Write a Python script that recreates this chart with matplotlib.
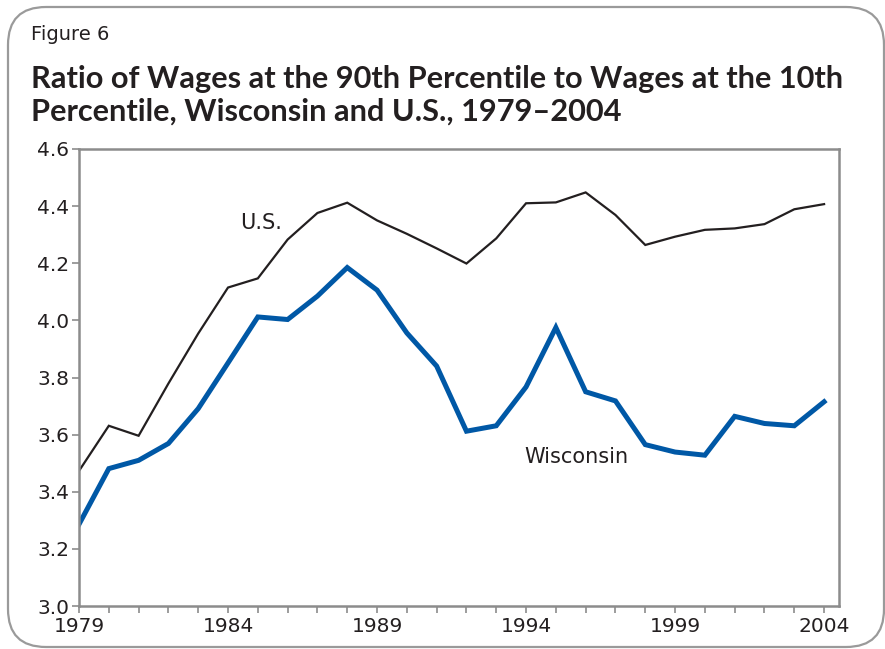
import matplotlib
matplotlib.use("Agg")
import matplotlib.pyplot as plt
from matplotlib.patches import FancyBboxPatch
from matplotlib.transforms import IdentityTransform
from matplotlib import font_manager

years = list(range(1979, 2005))
us = [3.473, 3.631, 3.596, 3.779, 3.954, 4.115, 4.147, 4.283, 4.376, 4.412,
      4.350, 4.303, 4.252, 4.199, 4.287, 4.410, 4.413, 4.448, 4.369, 4.264,
      4.293, 4.317, 4.322, 4.337, 4.389, 4.407]
wisconsin = [3.286, 3.481, 3.510, 3.569, 3.691, 3.851, 4.012, 4.003, 4.085, 4.185,
             4.106, 3.956, 3.840, 3.612, 3.631, 3.767, 3.975, 3.750, 3.718, 3.565,
             3.539, 3.528, 3.664, 3.639, 3.631, 3.715]
yticks = [3.0, 3.2, 3.4, 3.6, 3.8, 4.0, 4.2, 4.4, 4.6]
xlabel_years = [1979, 1984, 1989, 1994, 1999, 2004]

names = {f.name for f in font_manager.fontManager.ttflist}
title_family = "Lato" if "Lato" in names else "DejaVu Sans"

W, H = 885, 649
fig = plt.figure(figsize=(W / 100, H / 100), dpi=100)
fig.patch.set_facecolor("white")

# rounded frame (pixel coordinates, origin bottom-left)
frame = FancyBboxPatch((8, H - 647), 876, 640,
                       boxstyle="round,pad=0,rounding_size=38",
                       transform=IdentityTransform(), facecolor="none",
                       edgecolor="#9a9a9a", linewidth=1.6)
fig.patches.append(frame)

fig.text(31 / W, 1 - 35 / H, "Figure 6", fontsize=14, va="center", ha="left",
         color="#231f20", family="DejaVu Sans")
t1 = fig.text(31 / W, 1 - 79 / H, "Ratio of Wages at the 90th Percentile to Wages at the 10th",
              fontsize=18, fontweight="bold", va="center", ha="left", color="#231f20",
              family=title_family)
t2 = fig.text(31 / W, 1 - 112 / H, "Percentile, Wisconsin and U.S., 1979\u20132004",
              fontsize=18, fontweight="bold", va="center", ha="left", color="#231f20",
              family=title_family)
# fit first title line to the reference width (~815 px)
renderer = fig.canvas.get_renderer()
w = t1.get_window_extent(renderer).width
size = 18 * 814 / w
t1.set_fontsize(size)
t2.set_fontsize(size)

ax = fig.add_axes([79 / W, 1 - 606 / H, (839 - 79) / W, (606 - 149) / H])
ax.plot(years, us, color="#231f20", linewidth=1.6, solid_joinstyle="miter")
ax.plot(years, wisconsin, color="#0058a6", linewidth=3.6, solid_joinstyle="miter")

ax.set_xlim(1979, 2004.5)
ax.set_ylim(3.0, 4.6)
ax.set_yticks(yticks)
ax.set_yticklabels([f"{v:.1f}" for v in yticks])
ax.set_xticks(years)
ax.set_xticklabels([str(y) if y in xlabel_years else "" for y in years])

for s in ax.spines.values():
    s.set_color("#8c8c8c")
    s.set_linewidth(1.8)
ax.tick_params(axis="both", colors="#8c8c8c", labelcolor="#231f20",
               labelsize=14.5, length=5, width=1.2, direction="out")
ax.tick_params(axis="x", pad=3)
ax.tick_params(axis="y", pad=2)

ax.text(1984.4, 4.34, "U.S.", fontsize=15, ha="left", va="center", color="#231f20")
ax.text(1993.93, 3.52, "Wisconsin", fontsize=15, ha="left", va="center", color="#231f20")

fig.savefig("out.png", dpi=100)
